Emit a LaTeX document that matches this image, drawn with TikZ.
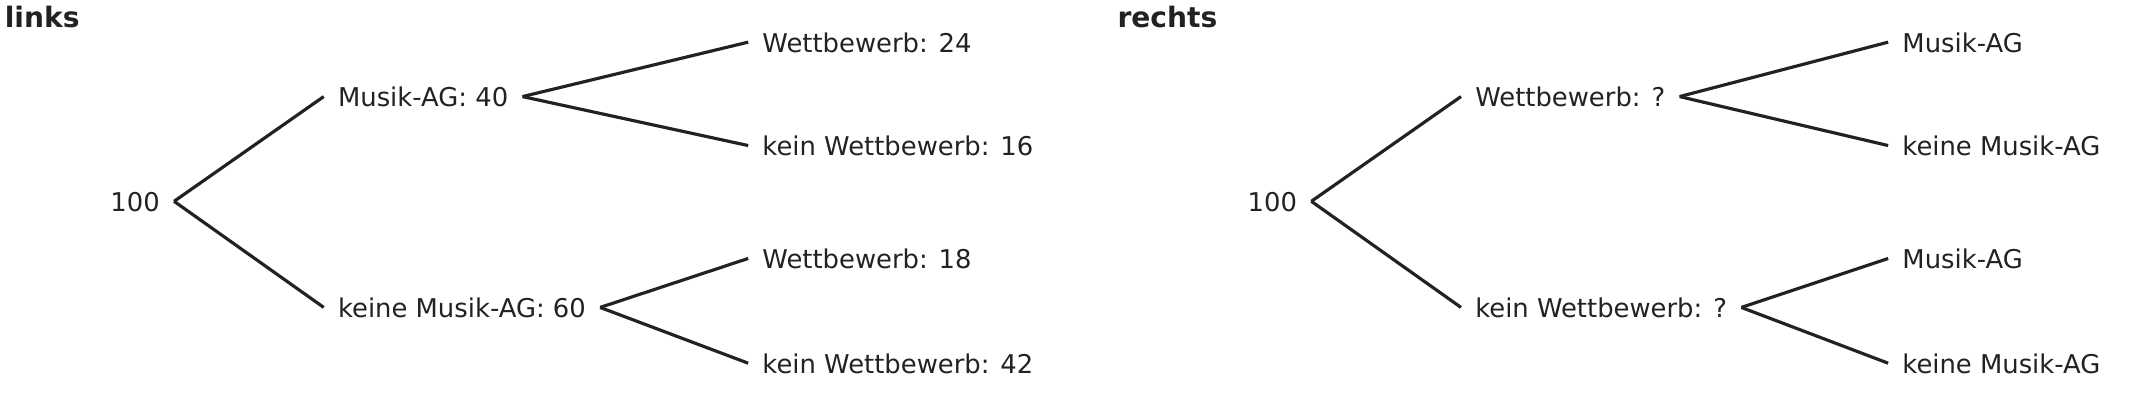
\documentclass[tikz,border=0pt]{standalone}
\usepackage{fontspec}
\setmainfont{DejaVu Sans}
\definecolor{ink}{HTML}{222222}
\begin{document}
\begin{tikzpicture}[x=0.0136cm,y=-0.0136cm,
    lbl/.style={inner xsep=0.136cm,inner ysep=0pt,text height=0.58em,text depth=0pt,
      font=\fontsize{7.35}{8.8}\selectfont,text=ink},
    ttl/.style={anchor=base west,inner sep=0pt,
      font=\fontsize{8}{9.6}\selectfont\bfseries,text=ink}]
  \useasboundingbox (0,0) rectangle (1568,298);
  \draw
    (3,20) node[ttl] (tl){links}
    (128,148) node[lbl,anchor=east] (l0){100}
    (238,71) node[lbl,anchor=west] (l1){Musik-AG: 40}
    (238,226) node[lbl,anchor=west] (l2){keine Musik-AG: 60}
    (550,31) node[lbl,anchor=west] (l11){Wettbewerb: 24}
    (550,107) node[lbl,anchor=west] (l12){kein Wettbewerb: 16}
    (550,190) node[lbl,anchor=west] (l21){Wettbewerb: 18}
    (550,267) node[lbl,anchor=west] (l22){kein Wettbewerb: 42}
    (821,20) node[ttl] (tr){rechts}
    (964,148) node[lbl,anchor=east] (r0){100}
    (1074,71) node[lbl,anchor=west] (r1){Wettbewerb: ?}
    (1074,226) node[lbl,anchor=west] (r2){kein Wettbewerb: ?}
    (1388,31) node[lbl,anchor=west] (r11){Musik-AG}
    (1388,107) node[lbl,anchor=west] (r12){keine Musik-AG}
    (1388,190) node[lbl,anchor=west] (r21){Musik-AG}
    (1388,267) node[lbl,anchor=west] (r22){keine Musik-AG};
  \begin{scope}[-,draw=ink,line width=0.9pt]
    \draw (l0.east) to (l1.west);
    \draw (l0.east) to (l2.west);
    \draw (l1.east) to (l11.west);
    \draw (l1.east) to (l12.west);
    \draw (l2.east) to (l21.west);
    \draw (l2.east) to (l22.west);
    \draw (r0.east) to (r1.west);
    \draw (r0.east) to (r2.west);
    \draw (r1.east) to (r11.west);
    \draw (r1.east) to (r12.west);
    \draw (r2.east) to (r21.west);
    \draw (r2.east) to (r22.west);
  \end{scope}
\end{tikzpicture}
\end{document}
